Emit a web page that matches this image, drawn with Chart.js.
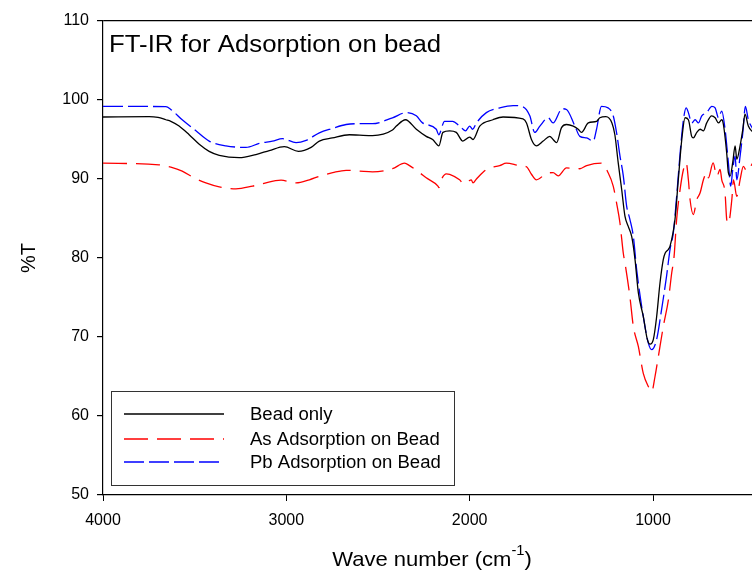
<!DOCTYPE html>
<html>
<head>
<meta charset="utf-8">
<script src="https://cdn.jsdelivr.net/npm/chart.js@4/dist/chart.umd.min.js"></script>
<style>
  html, body { margin: 0; padding: 0; background: #fff; }
  #wrap { width: 752px; height: 574px; }
</style>
</head>
<body>
<div id="wrap"><canvas id="ftirChart" width="752" height="574"></canvas></div>
<script>
// wave numbers (cm-1) and %T
const beadX = [4000, 3749, 3700, 3657, 3630, 3585, 3530, 3475, 3421, 3366, 3257, 3166, 3093, 3011, 2934, 2865, 2820, 2749, 2656, 2601, 2530, 2421, 2400, 2350, 2291, 2237, 2202, 2168, 2146, 2109, 2073, 2037, 2000, 1982, 1945, 1873, 1818, 1709, 1690, 1663, 1636, 1599, 1563, 1545, 1526, 1499, 1472, 1435, 1408, 1390, 1353, 1308, 1290, 1257, 1224, 1208, 1190, 1171, 1153, 1135, 1116, 1098, 1080, 1053, 1031, 1016, 998, 980, 962, 944, 934, 916, 907, 880, 862, 843, 825, 807, 789, 780, 761, 743, 725, 707, 680, 661, 643, 625, 616, 598, 589, 579, 565, 552, 543, 525, 510, 498, 480, 455];
const beadY = [97.85, 97.9, 97.8, 97.5, 97.3, 96.7, 95.6, 94.4, 93.5, 93.0, 92.7, 93.1, 93.6, 94.1, 93.5, 94.0, 94.8, 95.2, 95.6, 95.55, 95.5, 96.2, 96.7, 97.5, 96.3, 95.4, 95.0, 94.2, 95.9, 96.1, 95.9, 94.8, 95.3, 95.0, 96.7, 97.5, 97.85, 97.6, 97.1, 95.0, 94.2, 94.8, 95.4, 95.0, 94.6, 96.5, 96.9, 96.7, 96.3, 95.9, 97.1, 97.3, 97.75, 97.9, 97.1, 95.6, 92.1, 88.7, 85.3, 84.0, 82.7, 79.8, 75.6, 72.6, 69.7, 69.1, 69.7, 72.6, 76.8, 79.8, 80.6, 81.1, 81.5, 84.9, 89.9, 95.0, 97.75, 97.5, 95.4, 95.2, 95.9, 96.3, 96.1, 97.1, 98.0, 97.75, 97.1, 97.5, 96.9, 93.3, 90.8, 90.4, 92.1, 94.2, 92.5, 94.2, 96.3, 98.2, 96.7, 95.9];

const asX = [4000, 3694, 3630, 3568, 3503, 3439, 3366, 3275, 3184, 3130, 3029, 2947, 2874, 2820, 2747, 2674, 2601, 2530, 2421, 2355, 2328, 2273, 2237, 2173, 2168, 2155, 2127, 2109, 2055, 2033, 2009, 1991, 1982, 1963, 1909, 1836, 1800, 1727, 1690, 1663, 1636, 1581, 1545, 1517, 1472, 1399, 1362, 1281, 1245, 1217, 1199, 1180, 1162, 1153, 1126, 1107, 1080, 1053, 1025, 1007, 989, 971, 944, 916, 898, 885, 871, 852, 834, 819, 807, 798, 780, 761, 743, 725, 707, 698, 672, 652, 634, 625, 607, 598, 589, 570, 561, 543, 525, 507, 489, 455];
const asY = [92.0, 91.8, 91.5, 91.0, 90.15, 89.5, 89.0, 88.75, 89.1, 89.4, 89.85, 89.5, 89.9, 90.35, 90.8, 91.1, 91.0, 90.9, 91.3, 92.0, 91.7, 90.8, 90.15, 89.1, 88.9, 89.9, 90.65, 90.6, 89.9, 89.4, 89.7, 89.9, 89.5, 90.0, 91.2, 91.7, 92.0, 91.7, 91.55, 90.6, 89.9, 90.7, 90.8, 90.4, 91.4, 91.3, 91.7, 92.0, 90.8, 89.1, 87.0, 84.4, 80.6, 79.4, 75.1, 71.3, 68.8, 65.4, 63.7, 63.1, 65.0, 67.5, 71.3, 74.7, 78.1, 80.2, 84.9, 88.7, 91.2, 92.05, 89.9, 87.4, 85.5, 87.4, 88.25, 89.9, 90.8, 90.15, 92.05, 90.35, 91.2, 89.9, 88.25, 84.9, 84.4, 87.4, 89.9, 87.8, 89.9, 91.6, 91.0, 92.05];

const pbX = [4000, 3657, 3630, 3568, 3493, 3421, 3330, 3220, 3148, 3076, 3020, 2947, 2892, 2820, 2749, 2674, 2601, 2530, 2421, 2346, 2291, 2257, 2182, 2169, 2137, 2093, 2055, 2022, 2000, 1984, 1963, 1909, 1836, 1763, 1710, 1672, 1645, 1617, 1572, 1545, 1508, 1499, 1472, 1426, 1399, 1362, 1326, 1308, 1281, 1245, 1217, 1199, 1180, 1162, 1144, 1126, 1107, 1089, 1053, 1025, 1007, 980, 953, 926, 907, 889, 871, 852, 834, 819, 807, 789, 770, 752, 734, 707, 679, 661, 643, 625, 607, 589, 576, 565, 552, 543, 525, 510, 496, 480, 455];
const pbY = [99.2, 99.15, 98.8, 97.5, 96.1, 94.8, 94.2, 94.0, 94.5, 94.8, 95.1, 94.6, 94.9, 95.85, 96.4, 96.9, 97.0, 97.0, 97.75, 98.4, 98.0, 97.1, 96.3, 95.6, 97.3, 97.3, 96.7, 96.1, 96.7, 96.3, 97.1, 98.4, 99.0, 99.3, 99.15, 98.0, 95.9, 96.7, 97.75, 97.1, 98.6, 98.9, 98.8, 96.7, 95.4, 95.2, 94.8, 96.3, 99.2, 99.0, 98.0, 95.9, 92.9, 90.4, 86.6, 84.9, 82.7, 78.5, 72.6, 69.2, 68.4, 69.7, 73.5, 77.7, 81.1, 83.2, 87.8, 93.3, 97.5, 99.0, 98.4, 97.1, 97.5, 97.1, 98.0, 98.4, 99.2, 99.0, 97.75, 98.6, 96.3, 92.1, 89.1, 91.2, 92.9, 89.9, 92.9, 95.9, 99.2, 97.5, 96.3];

const seriesLabels = ['Bead only', 'As Adsorption on Bead', 'Pb Adsorption on Bead'];
const xTicks = [4000, 3000, 2000, 1000];
const yTicks = [50, 60, 70, 80, 90, 100, 110];

function toPoints(xs, ys) {
    return xs.map((x, i) => ({ x: x, y: ys[i] }));
}

const FONT = 'Arial, "Liberation Sans", sans-serif';

// text drawn a little wider than Arial, like the original export
function wideText(ctx, text, x, y, size, sx) {
    ctx.save();
    ctx.font = size + 'px ' + FONT;
    ctx.translate(x, y);
    ctx.scale(sx, 1);
    ctx.fillText(text, 0, 0);
    const w = ctx.measureText(text).width * sx;
    ctx.restore();
    return w;
}

// title, axis titles and the boxed legend
const decorations = {
    id: 'decorations',
    afterDraw(chart) {
        const ctx = chart.ctx;
        const area = chart.chartArea;
        ctx.save();
        ctx.fillStyle = '#000';
        ctx.textAlign = 'left';
        ctx.textBaseline = 'alphabetic';

        wideText(ctx, 'FT-IR for Adsorption on bead', area.left + 6, 52, 23, 1.12);

        // y title
        ctx.save();
        ctx.translate(35, 258);
        ctx.rotate(-Math.PI / 2);
        ctx.font = '20px ' + FONT;
        ctx.textAlign = 'center';
        ctx.fillText('%T', 0, 0);
        ctx.restore();

        // x title with superscript
        ctx.font = '21px ' + FONT;
        const wa = ctx.measureText('Wave number (cm').width * 1.05;
        ctx.font = '14px ' + FONT;
        const ws = ctx.measureText('-1').width * 1.05;
        ctx.font = '21px ' + FONT;
        const wb = ctx.measureText(')').width * 1.05;
        const x0 = 432 - (wa + ws + wb) / 2;
        wideText(ctx, 'Wave number (cm', x0, 566, 21, 1.05);
        wideText(ctx, '-1', x0 + wa, 555, 14, 1.05);
        wideText(ctx, ')', x0 + wa + ws, 566, 21, 1.05);

        // legend box
        ctx.strokeStyle = '#333';
        ctx.lineWidth = 1;
        ctx.strokeRect(111.5, 391.5, 343, 94);
        ctx.textBaseline = 'middle';
        const rows = [414, 439, 462];
        chart.data.datasets.forEach((ds, i) => {
            ctx.strokeStyle = ds.borderColor;
            ctx.lineWidth = ds.borderWidth;
            ctx.setLineDash(ds.borderDash || []);
            ctx.beginPath();
            ctx.moveTo(124, rows[i]);
            ctx.lineTo(224, rows[i]);
            ctx.stroke();
            ctx.setLineDash([]);
            ctx.fillStyle = '#000';
            wideText(ctx, ds.label, 250, rows[i] + 1, 17.5, 1.06);
        });
        ctx.restore();
    }
};

const ctxFtir = document.getElementById('ftirChart').getContext('2d');
const ftirChart = new Chart(ctxFtir, {
    type: 'line',
    data: {
        datasets: [{
            label: seriesLabels[0],
            data: toPoints(beadX, beadY),
            borderColor: '#000000',
            borderWidth: 1.3,
            pointRadius: 0,
            cubicInterpolationMode: 'monotone'
        }, {
            label: seriesLabels[1],
            data: toPoints(asX, asY),
            borderColor: '#ff0000',
            borderWidth: 1.3,
            borderDash: [24, 9],
            pointRadius: 0,
            cubicInterpolationMode: 'monotone'
        }, {
            label: seriesLabels[2],
            data: toPoints(pbX, pbY),
            borderColor: '#0000ff',
            borderWidth: 1.3,
            borderDash: [20, 5],
            pointRadius: 0,
            cubicInterpolationMode: 'monotone'
        }]
    },
    options: {
        responsive: false,
        animation: false,
        layout: { padding: { top: 21, right: 0, left: 0, bottom: 0 } },
        plugins: {
            legend: { display: false },
            tooltip: { enabled: false }
        },
        scales: {
            x: {
                type: 'linear',
                reverse: true,
                min: 460,
                max: 4000,
                afterBuildTicks: (axis) => { axis.ticks = xTicks.map(v => ({ value: v })); },
                afterFit: (axis) => { axis.height = 79; },
                border: { display: true, color: '#000', width: 1.2 },
                grid: { color: 'transparent', tickColor: '#000', tickLength: 6, drawOnChartArea: false },
                ticks: {
                    color: '#000', font: { size: 16, family: FONT }, padding: 10, maxRotation: 0,
                    callback: (v) => String(v)
                }
            },
            y: {
                min: 50,
                max: 110,
                afterBuildTicks: (axis) => { axis.ticks = yTicks.map(v => ({ value: v })); },
                afterFit: (axis) => { axis.width = 103; },
                border: { display: true, color: '#000', width: 1.2 },
                grid: {
                    color: (c) => (c.tick && c.tick.value === 110) ? '#000' : 'transparent',
                    lineWidth: 1.2,
                    tickColor: '#000',
                    tickLength: 6
                },
                ticks: {
                    color: '#000', font: { size: 16, family: FONT }, padding: 8,
                    callback: (v) => String(v)
                }
            }
        }
    },
    plugins: [decorations]
});
</script>
</body>
</html>
